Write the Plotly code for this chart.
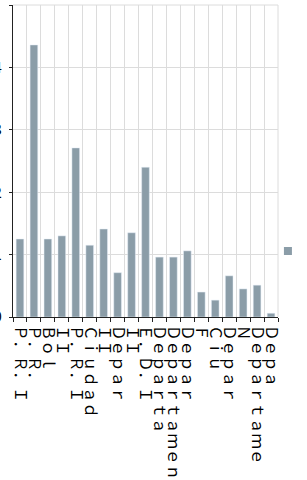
import plotly.graph_objects as go

categories = [
    "Ｐ．Ｒ．Ｉ", "Ｐ．Ｒ．", "Ｂｏｌ", "ＩＩ", "Ｐ．Ｒ．Ｉ", "Ｃｉｕｄａｄ",
    "ＩＩ", "Ｄｅｐａｒ", "ＩＩ", "Ｅ．Ｄ．Ｉ", "Ｄｅｐａｒｔａ", "Ｄｅｐａｒｔａｍｅｎ",
    "Ｄｅｐａｒ", "Ｆ", "Ｃｉｕ", "Ｄｅｐａｒ", "Ｎ", "Ｄｅｐａｒｔａｍｅ", "Ｄｅｐａ",
]
values = [1.25, 4.36, 1.25, 1.30, 2.71, 1.15, 1.41, 0.71, 1.35, 2.40,
          0.96, 0.96, 1.06, 0.40, 0.27, 0.66, 0.45, 0.51, 0.06]
series_name = "Afiliados"
y_ticks = [0, 1, 2, 3, 4, 5]

bar_color = "rgb(139,157,168)"
grid_color = "#dcdcdc"
positions = list(range(len(categories)))
boundaries = [p - 0.5 for p in range(len(categories) + 1)]

fig = go.Figure()
fig.add_trace(go.Bar(x=positions, y=values, marker_color=bar_color,
                     showlegend=False, name=series_name))
fig.add_trace(go.Scatter(x=[None], y=[None], mode="markers", name=series_name,
                         marker=dict(symbol="square", size=8, color=bar_color)))

fig.update_layout(
    width=307, height=480,
    margin=dict(l=13, r=29, t=5, b=163, autoexpand=False),
    plot_bgcolor="white", paper_bgcolor="white",
    font=dict(family="Noto Sans CJK JP", size=15.5, color="black"),
    bargap=0.45,
    showlegend=True,
    legend=dict(x=0.962, xanchor="left", y=0.21, yanchor="middle",
                bgcolor="rgba(0,0,0,0)", borderwidth=0),
)
fig.update_xaxes(
    range=[-0.5, len(categories) - 0.5],
    tickvals=positions, ticktext=categories, tickangle=90,
    ticks="outside", ticklen=4, tickcolor="rgba(0,0,0,0)",
    showgrid=False, zeroline=False,
    showline=True, linecolor="#222", linewidth=1,
    minor=dict(tickvals=boundaries, ticks="outside", ticklen=4, tickcolor="#222",
               showgrid=True, gridcolor=grid_color, gridwidth=1),
    automargin=False,
)
fig.update_yaxes(
    range=[0, 5], tickvals=y_ticks, ticksuffix="%",
    ticks="outside", ticklen=3, tickcolor="#222",
    showgrid=True, gridcolor=grid_color, gridwidth=1,
    zeroline=False, showline=True, linecolor="#222", linewidth=1,
    ticklabelstandoff=4,
    automargin=False,
)
fig.add_shape(type="line", xref="paper", yref="paper", x0=1, x1=1, y0=0, y1=1,
              line=dict(color=grid_color, width=1), layer="below")
fig.add_shape(type="line", xref="paper", yref="paper", x0=0, x1=1, y0=1, y1=1,
              line=dict(color=grid_color, width=1), layer="below")

fig.write_html("out.html", config={"displayModeBar": False},
               post_script="document.body.style.margin='0';")
